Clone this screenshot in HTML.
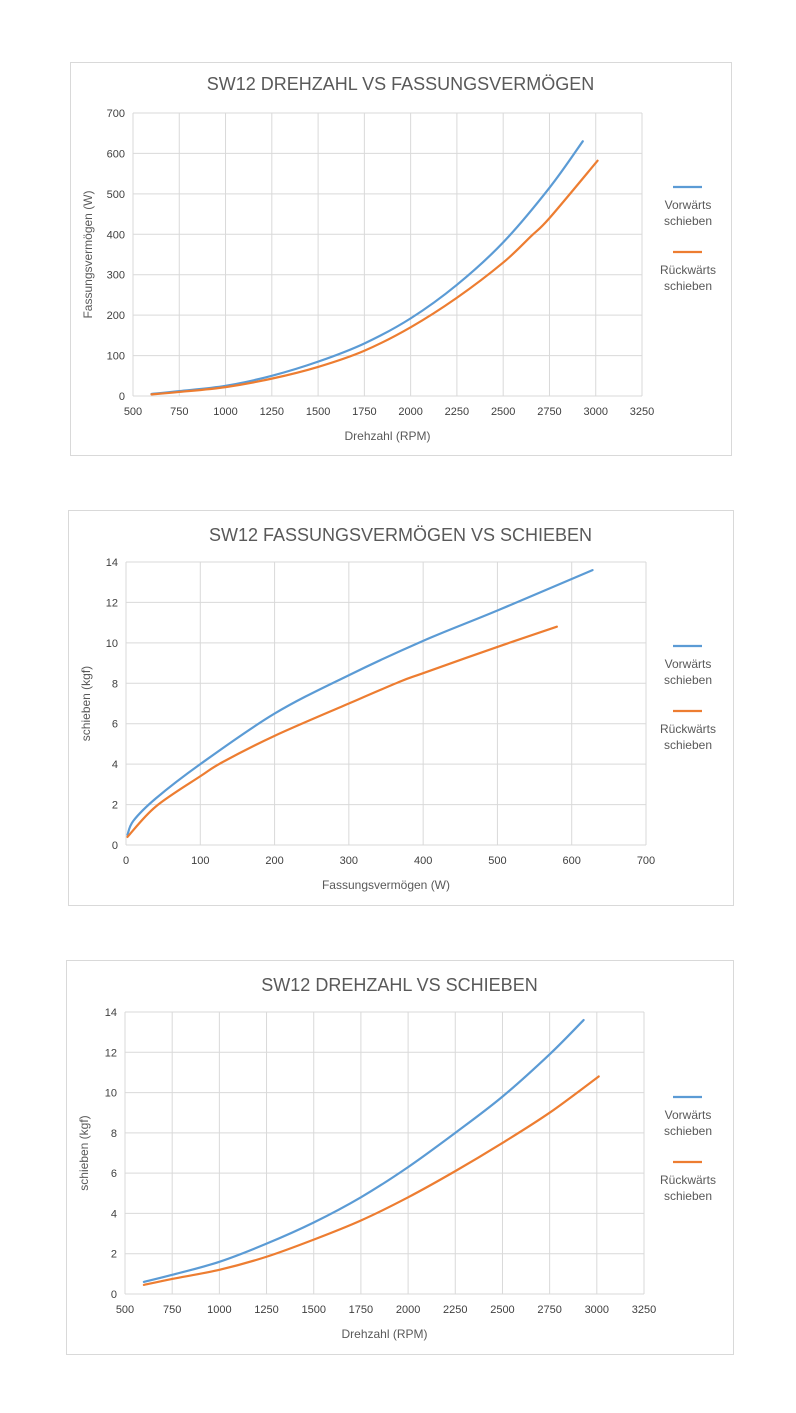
<!DOCTYPE html>
<html><head><meta charset="utf-8"><style>
html,body{margin:0;padding:0;background:#fff;}
svg{display:block;font-family:"Liberation Sans",sans-serif;}
</style></head><body>
<svg id="s" width="796" height="1413" viewBox="0 0 796 1413" xmlns="http://www.w3.org/2000/svg"></svg>
<script>
// Chart 1: Drehzahl vs Fassungsvermögen
const c1BlueX=[600,750,1000,1250,1500,1750,2000,2250,2500,2750,2930];
const c1BlueY=[5,12,25,50,85,130,192,275,380,515,630];
const c1OrangeX=[600,750,1000,1250,1500,1750,2000,2250,2500,2650,2750,3010];
const c1OrangeY=[4,10,22,43,72,112,170,243,330,395,440,582];
const c1XTicks=[500,750,1000,1250,1500,1750,2000,2250,2500,2750,3000,3250];
const c1YTicks=[0,100,200,300,400,500,600,700];
// Chart 2: Fassungsvermögen vs Schieben
const c2BlueX=[2,10,40,100,200,300,400,500,628];
const c2BlueY=[0.5,1.2,2.3,4.0,6.5,8.4,10.1,11.6,13.6];
const c2OrangeX=[2,40,100,130,200,300,370,400,500,580];
const c2OrangeY=[0.4,1.9,3.4,4.1,5.4,7.0,8.1,8.5,9.8,10.8];
const c2XTicks=[0,100,200,300,400,500,600,700];
const c2YTicks=[0,2,4,6,8,10,12,14];
// Chart 3: Drehzahl vs Schieben
const c3BlueX=[600,750,1000,1250,1500,1750,2000,2250,2500,2750,2930];
const c3BlueY=[0.6,0.95,1.6,2.5,3.55,4.8,6.3,8.0,9.8,11.9,13.6];
const c3OrangeX=[600,750,1000,1250,1500,1750,2000,2250,2500,2750,3010];
const c3OrangeY=[0.45,0.75,1.2,1.85,2.7,3.65,4.8,6.1,7.5,9.0,10.8];
const c3XTicks=[500,750,1000,1250,1500,1750,2000,2250,2500,2750,3000,3250];
const c3YTicks=[0,2,4,6,8,10,12,14];

const NS="http://www.w3.org/2000/svg";
const svg=document.getElementById('s');
function mk(tag,attrs,parent,text){const e=document.createElementNS(NS,tag);for(const k in attrs)e.setAttribute(k,attrs[k]);if(text!==undefined)e.textContent=text;(parent||svg).appendChild(e);return e;}
function smooth(pts){let d='M'+pts[0][0]+','+pts[0][1];for(let i=0;i<pts.length-1;i++){const p0=pts[i-1]||pts[i],p1=pts[i],p2=pts[i+1],p3=pts[i+2]||p2;
const c1x=p1[0]+(p2[0]-p0[0])/6,c1y=p1[1]+(p2[1]-p0[1])/6,c2x=p2[0]-(p3[0]-p1[0])/6,c2y=p2[1]-(p3[1]-p1[1])/6;
d+=' C'+c1x+','+c1y+' '+c2x+','+c2y+' '+p2[0]+','+p2[1];}return d;}
function chart(cfg){
 const g=mk('g',{});
 
 
 const box=mk('rect',{x:cfg.bx+0.5,y:cfg.by+0.5,width:cfg.bw,height:cfg.bh,fill:'#fff',stroke:'#d9d9d9'},g);
 
 
 const t=mk('text',{x:cfg.bx+cfg.bw/2,y:cfg.ty,'text-anchor':'middle','font-size':'18',fill:'#595959'},g,cfg.title);
 
 
 const xmin=cfg.xt[0],xmax=cfg.xt[cfg.xt.length-1],ymin=cfg.yt[0],ymax=cfg.yt[cfg.yt.length-1];
 const X=v=>cfg.px0+(v-xmin)/(xmax-xmin)*(cfg.px1-cfg.px0);
 const Y=v=>cfg.py0-(v-ymin)/(ymax-ymin)*(cfg.py0-cfg.py1);
 cfg.xt.forEach(v=>{const x=X(v);
  const l=mk('line',{x1:x,x2:x,y1:cfg.py1,y2:cfg.py0,stroke:'#d9d9d9'},g);
  
  
  const tx=mk('text',{x:x,y:cfg.py0+19,'text-anchor':'middle','font-size':'11',fill:'#404040'},g,String(v));
  
  });
 cfg.yt.forEach(v=>{const y=Y(v);
  const l=mk('line',{x1:cfg.px0,x2:cfg.px1,y1:y,y2:y,stroke:'#d9d9d9'},g);
  
  
  const ty=mk('text',{x:cfg.px0-8,y:y+4,'text-anchor':'end','font-size':'11',fill:'#404040'},g,String(v));
  
  });
 const xa=mk('text',{x:(cfg.px0+cfg.px1)/2,y:cfg.py0+44,'text-anchor':'middle','font-size':'12',fill:'#595959'},g,cfg.xl);
 
 
 const yc=(cfg.py0+cfg.py1)/2;
 const ya=mk('text',{x:cfg.bx+22,y:yc,'text-anchor':'middle','font-size':'12',fill:'#595959',transform:'rotate(-90 '+(cfg.bx+22)+' '+yc+')'},g,cfg.yl);
 
 
 cfg.series.forEach(s=>{const pts=s.x.map((v,i)=>[X(v),Y(s.y[i])]);
  const p=mk('path',{d:smooth(pts),fill:'none',stroke:s.color,'stroke-width':'2.2','stroke-linecap':'round'},g);
  
  });
 const legs=[['Vorwärts','#5b9bd5',0,'legend-vorwaerts'],['Rückwärts','#ed7d31',65,'legend-rueckwaerts']];
 legs.forEach(L=>{const ly=cfg.ly+L[2];
  const lg=mk('g',{},g);
  
  
  mk('line',{x1:673,x2:702,y1:ly,y2:ly,stroke:L[1],'stroke-width':'2.2'},lg);
  mk('text',{x:688,y:ly+22,'text-anchor':'middle','font-size':'12',fill:'#595959'},lg,L[0]);
  mk('text',{x:688,y:ly+38,'text-anchor':'middle','font-size':'12',fill:'#595959'},lg,'schieben');});
}
chart({name:'chart-drehzahl-fassungsvermoegen',bx:70,by:62,bw:661,bh:393,ty:90,title:'SW12 DREHZAHL VS FASSUNGSVERMÖGEN',
 px0:133,px1:642,py0:396,py1:113,xt:c1XTicks,yt:c1YTicks,xl:'Drehzahl (RPM)',yl:'Fassungsvermögen (W)',ly:187,
 series:[{x:c1BlueX,y:c1BlueY,color:'#5b9bd5',name:'vorwaerts'},{x:c1OrangeX,y:c1OrangeY,color:'#ed7d31',name:'rueckwaerts'}]});
chart({name:'chart-fassungsvermoegen-schieben',bx:68,by:510,bw:665,bh:395,ty:541,title:'SW12 FASSUNGSVERMÖGEN VS SCHIEBEN',
 px0:126,px1:646,py0:845,py1:562,xt:c2XTicks,yt:c2YTicks,xl:'Fassungsvermögen (W)',yl:'schieben (kgf)',ly:646,
 series:[{x:c2BlueX,y:c2BlueY,color:'#5b9bd5',name:'vorwaerts'},{x:c2OrangeX,y:c2OrangeY,color:'#ed7d31',name:'rueckwaerts'}]});
chart({name:'chart-drehzahl-schieben',bx:66,by:960,bw:667,bh:394,ty:991,title:'SW12 DREHZAHL VS SCHIEBEN',
 px0:125,px1:644,py0:1294,py1:1012,xt:c3XTicks,yt:c3YTicks,xl:'Drehzahl (RPM)',yl:'schieben (kgf)',ly:1097,
 series:[{x:c3BlueX,y:c3BlueY,color:'#5b9bd5',name:'vorwaerts'},{x:c3OrangeX,y:c3OrangeY,color:'#ed7d31',name:'rueckwaerts'}]});
</script>
</body></html>
